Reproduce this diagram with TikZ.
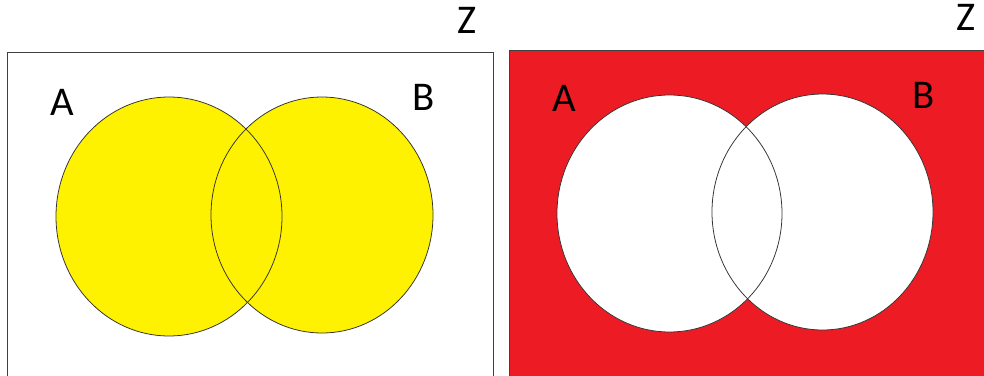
\documentclass[tikz,border=0pt]{standalone}
\usepackage{fontspec}
\setsansfont{Carlito}
\usepackage{tikz}
\definecolor{PaintYellow}{RGB}{255,242,0}
\definecolor{PaintRed}{RGB}{237,28,36}

\begin{document}
\begin{tikzpicture}[
    x=0.25mm, y=-0.25mm,
    % ── styles ──
    frame/.style  = {draw=black!75, line width=0.6pt},
    setline/.style= {draw=black!80, line width=0.55pt},
    lbl/.style    = {font=\fontsize{29}{30}\selectfont\sffamily, text=black, inner sep=0pt},
]
\useasboundingbox (0,0) rectangle (984,376);
\clip (0,0) rectangle (984,376);

% =====================================================================
%  LEFT PANEL: A union B shaded
% =====================================================================
\draw[frame, fill=white] (7.5,52) rectangle (493,390);
\fill[PaintYellow] (169,216.5) ellipse [x radius=113, y radius=119.5];
\fill[PaintYellow] (322,215)   ellipse [x radius=111, y radius=118];
\draw[setline] (169,216.5) ellipse [x radius=113, y radius=119.5];
\draw[setline] (322,215)   ellipse [x radius=111, y radius=118];

\node[lbl] (zl) at (467,20)  {Z};
\node[lbl] (al) at (62,102)  {A};
\node[lbl] (bl) at (424,97)  {B};

% =====================================================================
%  RIGHT PANEL: complement of A union B shaded
% =====================================================================
\draw[frame, fill=PaintRed] (509.5,50) rectangle (1000,390);
\fill[white] (669.5,213.5) ellipse [x radius=112.5, y radius=118.5];
\fill[white] (822.5,212)   ellipse [x radius=110.5, y radius=118];
\draw[setline] (669.5,213.5) ellipse [x radius=112.5, y radius=118.5];
\draw[setline] (822.5,212)   ellipse [x radius=110.5, y radius=118];

\node[lbl] (zr) at (966,17)  {Z};
\node[lbl] (ar) at (564,98)  {A};
\node[lbl] (br) at (924,95)  {B};

\end{tikzpicture}
\end{document}
